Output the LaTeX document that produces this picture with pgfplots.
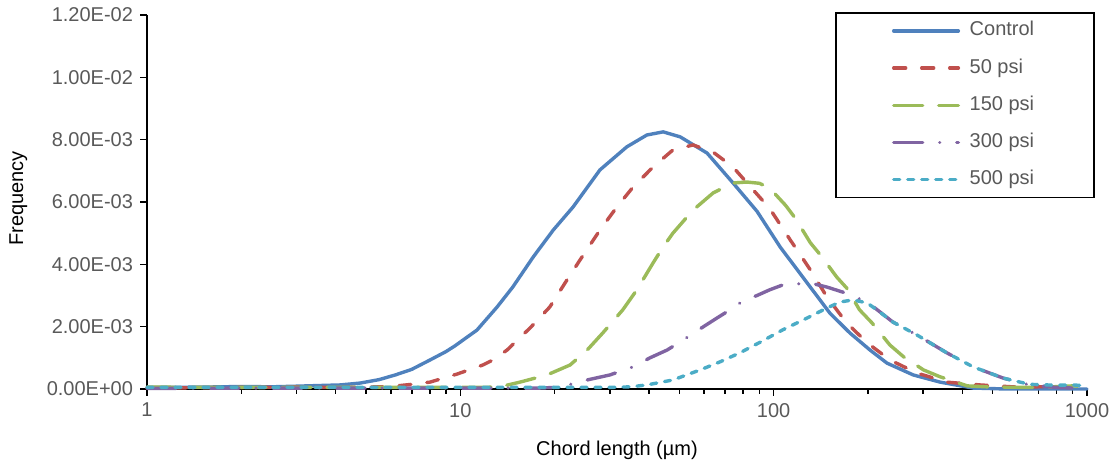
\documentclass[border=0pt]{standalone}
\usepackage{pgfplots}
\pgfplotsset{compat=1.18}
\usepackage{pgfplotstable}
\usepackage{fontspec}
\setmainfont{Liberation Sans}

\definecolor{cControl}{HTML}{4F81BD}
\definecolor{c50}{HTML}{C0504D}
\definecolor{c150}{HTML}{9BBB59}
\definecolor{c300}{HTML}{8064A2}
\definecolor{c500}{HTML}{4BACC6}
\definecolor{txtgray}{HTML}{595959}

% chord length (um)  frequency
\pgfplotstableread{
x y
1 5e-5
1.5 6e-5
2 8e-5
2.5 7e-5
3 9e-5
3.5 1.1e-4
4.13 1.3e-4
4.79 1.9e-4
5.5 3.0e-4
6.2 4.5e-4
7.0 6.3e-4
8.0 9.3e-4
9.0 1.2e-3
9.6 1.38e-3
11.3 1.89e-3
13.1 2.63e-3
14.7 3.27e-3
17.1 4.24e-3
19.8 5.1e-3
22.9 5.84e-3
27.9 7.03e-3
34.0 7.77e-3
39.4 8.15e-3
44.4 8.25e-3
50.3 8.09e-3
61.3 7.57e-3
74.2 6.61e-3
88.5 5.70e-3
105 4.55e-3
128 3.40e-3
151 2.44e-3
175 1.80e-3
203 1.25e-3
230 8.3e-4
279 4.5e-4
340 2.2e-4
433 3e-5
550 0
700 0
1000 0
}\control

\pgfplotstableread{
x y
1 3e-5
2 5e-5
3 6e-5
4 5e-5
5 6e-5
6 8e-5
7 1.5e-4
8 2.2e-4
9.77 4.8e-4
11.8 7.7e-4
12.7 9.3e-4
14.1 1.25e-3
16.7 1.96e-3
19.3 2.63e-3
21.9 3.5e-3
24.1 4.14e-3
27.9 5.1e-3
31.6 5.84e-3
35.6 6.48e-3
41.2 7.12e-3
47.7 7.67e-3
55.3 7.83e-3
64.1 7.6e-3
74.2 7.12e-3
86 6.39e-3
97 5.8e-3
113 4.78e-3
131 3.82e-3
148 2.95e-3
171 2.12e-3
199 1.48e-3
235 9.3e-4
287 5.1e-4
357 2.2e-4
456 1.3e-4
600 6e-5
800 8e-5
1000 5e-5
}\psififty

\pgfplotstableread{
x y
1 6e-5
2 5e-5
4 5e-5
6 5e-5
9 5e-5
12 5e-5
13.5 8e-5
15.5 2.2e-4
18.9 4.5e-4
22.4 7.7e-4
25.4 1.25e-3
28.5 1.8e-3
33 2.54e-3
36.6 3.18e-3
41.2 4.04e-3
44.4 4.56e-3
47.7 5.0e-3
55.3 5.74e-3
64.1 6.29e-3
74.2 6.61e-3
82.2 6.64e-3
90 6.6e-3
97 6.45e-3
109 5.9e-3
117 5.49e-3
131 4.69e-3
141 4.3e-3
159 3.59e-3
171 3.24e-3
188 2.54e-3
206 2.12e-3
235 1.41e-3
260 1.03e-3
301 6.1e-4
340 3.9e-4
415 1.0e-4
500 6e-5
700 5e-5
900 1e-4
1000 8e-5
}\psionefifty

\pgfplotstableread{
x y
1 2e-5
3 3e-5
6 3e-5
10 3e-5
15 3e-5
18 3e-5
20 5e-5
22.5 1.5e-4
25.4 2.9e-4
30 4.5e-4
35.6 7.1e-4
40.3 1.0e-3
45.7 1.25e-3
50.3 1.51e-3
59.5 1.99e-3
66 2.28e-3
72.6 2.54e-3
79.9 2.83e-3
88.5 3.0e-3
97 3.18e-3
107 3.34e-3
131 3.40e-3
148 3.27e-3
166 3.11e-3
199 2.79e-3
240 2.15e-3
287 1.73e-3
357 1.16e-3
433 7.1e-4
540 3.5e-4
655 1.3e-4
800 5e-5
903 3e-5
1000 3e-5
}\psithreehundred

\pgfplotstableread{
x y
1 5e-5
3 5e-5
6 5e-5
10 5e-5
20 5e-5
30 5e-5
35 7e-5
39.4 1.3e-4
47.7 2.9e-4
58.2 6.1e-4
67.4 8.7e-4
78 1.16e-3
90.5 1.5e-3
107 1.9e-3
128 2.28e-3
148 2.6e-3
163 2.79e-3
179 2.86e-3
199 2.76e-3
218 2.47e-3
240 2.15e-3
287 1.73e-3
357 1.16e-3
433 7.1e-4
540 3.5e-4
655 1.5e-4
800 1.2e-4
903 1.3e-4
1000 1.0e-4
}\psifivehundred

\begin{document}
\begin{tikzpicture}
\useasboundingbox (-73.5pt,-37.5pt) rectangle (484pt,194.5pt);
\begin{semilogxaxis}[
  scale only axis,
  width=470pt, height=187pt,
  xmin=1, xmax=1000,
  ymin=0, ymax=0.012,
  axis lines=left,
  axis line style={-, line width=1pt, black},
  every tick/.style={black, line width=0.8pt},
  tick align=outside,
  major tick length=3.5pt,
  minor tick length=2.5pt,
  xtick={1,10,100,1000},
  xticklabels={1,10,100,1000},
  ytick={0,0.002,0.004,0.006,0.008,0.010,0.012},
  yticklabels={0.00E+00,2.00E-03,4.00E-03,6.00E-03,8.00E-03,1.00E-02,1.20E-02},
  scaled y ticks=false,
  ticklabel style={font=\fontsize{10}{12}\selectfont, text=txtgray},
  label style={font=\fontsize{10}{12}\selectfont, text=txtgray},
  xlabel={Chord length (µm)},
  ylabel={Frequency},
  every axis x label/.style={at={(axis description cs:0.5,-0.165)}, anchor=center},
  every axis y label/.style={at={(axis description cs:-0.137,0.51)}, rotate=90, anchor=center},
  legend cell align=left,
  legend style={at={(axis description cs:1.0085,1.008)}, anchor=north east,
    draw=black, line width=0.8pt, inner xsep=28pt, inner ysep=2pt, row sep=4.6pt,
    font=\fontsize{10}{12}\selectfont, text=txtgray,
    nodes={text height=7.5pt, text depth=2.5pt}},
  legend image code/.code={\draw[#1] (0.85pt,0pt) -- (33.2pt,0pt); \path (36pt,0pt);},
  clip=false,
]
\addplot[cControl, line width=1.7pt, line cap=round] table {\control};
\addlegendentry{Control}
\addplot[c50, line width=1.7pt, line cap=round, dash pattern=on 6pt off 8pt] table {\psififty};
\addlegendentry{50 psi}
\addplot[c150, line width=1.7pt, line cap=round, dash pattern=on 14.5pt off 8pt] table {\psionefifty};
\addlegendentry{150 psi}
\addplot[c300, line width=1.7pt, line cap=round, dash pattern=on 14.5pt off 8.5pt on 0.01pt off 8.5pt] table {\psithreehundred};
\addlegendentry{300 psi}
\addplot[c500, line width=1.7pt, line cap=round, dash pattern=on 3pt off 4pt] table {\psifivehundred};
\addlegendentry{500 psi}
\end{semilogxaxis}
\end{tikzpicture}
\end{document}
